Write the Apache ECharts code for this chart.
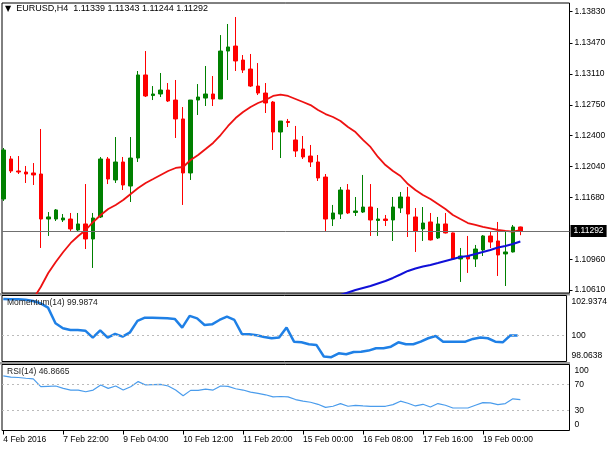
<!DOCTYPE html>
<html>
<head>
<meta charset="utf-8">
<style>
  html, body { margin: 0; padding: 0; background: #fff; }
  #chart { width: 610px; height: 450px; }
</style>
<script src="https://cdn.jsdelivr.net/npm/echarts@6/dist/echarts.min.js"></script>
</head>
<body>
<div id="chart"></div>
<script>
// EURUSD H4, 4 Feb 16:00 .. 19 Feb 20:00 (70 bars)
const opens = [1.11663, 1.12126, 1.11987, 1.11975, 1.11964, 1.11952, 1.11431, 1.11431, 1.11420, 1.11431,
  1.11304, 1.11374, 1.11200, 1.11455, 1.12126, 1.11883, 1.12091, 1.11813, 1.12137, 1.13098,
  1.12860, 1.12878, 1.12924, 1.12808, 1.12589, 1.11964, 1.12808, 1.12831, 1.12878, 1.12820,
  1.13375, 1.13433, 1.13271, 1.13167, 1.12970, 1.12889, 1.12785, 1.12438, 1.12560, 1.12346,
  1.12241, 1.12160, 1.12091, 1.11917, 1.11431, 1.11489, 1.11767, 1.11507, 1.11512, 1.11570,
  1.11414, 1.11431, 1.11420, 1.11559, 1.11686, 1.11455, 1.11316, 1.11397, 1.11212, 1.11374,
  1.11270, 1.10969, 1.11003, 1.10969, 1.11073, 1.11235, 1.11177, 1.11027, 1.11050, 1.11339];
const highs = [1.12253, 1.12160, 1.12160, 1.12045, 1.12079, 1.12473, 1.11512, 1.11547, 1.11489, 1.11501,
  1.11501, 1.11836, 1.11501, 1.12149, 1.12149, 1.12380, 1.12149, 1.12380, 1.13144, 1.13375,
  1.12970, 1.13121, 1.13005, 1.13040, 1.12727, 1.12808, 1.12993, 1.13202, 1.13086, 1.13560,
  1.13688, 1.13769, 1.13329, 1.13341, 1.13236, 1.13005, 1.12797, 1.12565, 1.12589, 1.12508,
  1.12392, 1.12288, 1.12172, 1.11952, 1.11594, 1.11802, 1.11836, 1.11686, 1.11941, 1.11836,
  1.11559, 1.11478, 1.11686, 1.11744, 1.11802, 1.11559, 1.11570, 1.11501, 1.11455, 1.11501,
  1.11275, 1.11096, 1.11235, 1.11131, 1.11246, 1.11281, 1.11397, 1.11281, 1.11362, 1.11343];
const lows = [1.11640, 1.11964, 1.11952, 1.11848, 1.11825, 1.11096, 1.11235, 1.11408, 1.11397, 1.11293,
  1.11281, 1.11084, 1.10865, 1.11443, 1.11836, 1.11848, 1.11767, 1.11628, 1.12091, 1.12843,
  1.12808, 1.12843, 1.12785, 1.12369, 1.11594, 1.11883, 1.12635, 1.12739, 1.12739, 1.12820,
  1.13040, 1.13144, 1.13121, 1.12959, 1.12866, 1.12658, 1.12230, 1.12137, 1.12496, 1.12149,
  1.12126, 1.12033, 1.11871, 1.11281, 1.11350, 1.11431, 1.11489, 1.11466, 1.11501, 1.11235,
  1.11235, 1.11350, 1.11177, 1.11501, 1.11223, 1.11050, 1.11177, 1.11183, 1.11200, 1.11264,
  1.10957, 1.10703, 1.10807, 1.10876, 1.11003, 1.11096, 1.10772, 1.10656, 1.11044, 1.11244];
const closes = [1.12230, 1.11987, 1.11975, 1.11952, 1.11941, 1.11431, 1.11455, 1.11536, 1.11443, 1.11316,
  1.11374, 1.11200, 1.11443, 1.12126, 1.11894, 1.12091, 1.11825, 1.12137, 1.13098, 1.12855,
  1.12878, 1.12924, 1.12797, 1.12589, 1.11964, 1.12808, 1.12843, 1.12878, 1.12820, 1.13375,
  1.13422, 1.13260, 1.13155, 1.12970, 1.12889, 1.12774, 1.12438, 1.12565, 1.12548, 1.12218,
  1.12149, 1.12091, 1.11906, 1.11431, 1.11501, 1.11767, 1.11501, 1.11524, 1.11570, 1.11420,
  1.11431, 1.11414, 1.11570, 1.11686, 1.11489, 1.11293, 1.11385, 1.11189, 1.11374, 1.11270,
  1.10969, 1.11003, 1.10969, 1.11084, 1.11235, 1.11165, 1.11015, 1.11050, 1.11339, 1.11292];

// red moving average (hidden below the panel at the start)
const maFast = [null, null, null, null, 1.10506, 1.10645, 1.10807, 1.10934, 1.11050, 1.11154,
  1.11235, 1.11304, 1.11397, 1.11478, 1.11547, 1.11594, 1.11651, 1.11721, 1.11790, 1.11848,
  1.11894, 1.11941, 1.11987, 1.12022, 1.12033, 1.12114, 1.12172, 1.12241, 1.12311, 1.12403,
  1.12508, 1.12600, 1.12670, 1.12727, 1.12774, 1.12808, 1.12855, 1.12872, 1.12855, 1.12820,
  1.12785, 1.12750, 1.12693, 1.12646, 1.12612, 1.12565, 1.12496, 1.12438, 1.12346, 1.12265,
  1.12149, 1.12056, 1.11987, 1.11929, 1.11836, 1.11767, 1.11709, 1.11663, 1.11605, 1.11547,
  1.11478, 1.11431, 1.11385, 1.11362, 1.11339, 1.11322, 1.11304, 1.11293, 1.11285, 1.11304];
// blue moving average, only visible on the right
const maSlow = [null, null, null, null, null, null, null, null, null, null,
  null, null, null, null, null, null, null, null, null, null,
  null, null, null, null, null, null, null, null, null, null,
  null, null, null, null, null, null, null, null, null, null,
  null, null, null, null, null, 1.10552, 1.10581, 1.10610, 1.10633, 1.10656,
  1.10685, 1.10714, 1.10749, 1.10789, 1.10830, 1.10859, 1.10882, 1.10899, 1.10922, 1.10946,
  1.10969, 1.10992, 1.11003, 1.11027, 1.11050, 1.11073, 1.11102, 1.11119, 1.11142, 1.11171];

const momentum = [102.68, 102.66, 102.66, 102.63, 102.53, 102.36, 102.04, 100.89, 100.52, 100.39,
  100.39, 100.34, 99.83, 100.37, 99.83, 100.10, 99.90, 100.22, 101.06, 101.30,
  101.30, 101.28, 101.25, 101.21, 100.57, 101.43, 101.25, 100.76, 100.81, 101.13,
  101.38, 101.13, 100.10, 100.07, 100.00, 99.88, 99.78, 99.83, 100.57, 99.53,
  99.48, 99.34, 99.29, 98.43, 98.38, 98.67, 98.60, 98.77, 98.79, 98.87,
  99.04, 99.04, 99.16, 99.48, 99.34, 99.34, 99.53, 99.78, 99.95, 99.53,
  99.53, 99.53, 99.53, 99.73, 99.83, 99.78, 99.53, 99.48, 99.98, 99.9874];
const rsi = [82.8, 80.8, 80.3, 79.2, 78.2, 66.4, 66.9, 67.4, 63.8, 61.3,
  61.3, 58.7, 61.3, 69.0, 63.8, 67.4, 61.3, 66.4, 74.1, 69.0,
  69.5, 70.0, 67.4, 61.3, 52.6, 60.8, 60.8, 62.8, 61.3, 67.4,
  66.9, 63.3, 61.3, 58.2, 56.2, 54.1, 51.0, 51.5, 51.0, 46.9,
  44.4, 42.8, 39.7, 35.1, 36.7, 40.8, 36.7, 38.2, 37.2, 36.7,
  36.7, 36.7, 39.2, 44.4, 41.3, 37.2, 39.7, 35.6, 40.8, 38.2,
  34.1, 34.1, 34.1, 38.2, 42.3, 41.8, 39.2, 40.8, 48.0, 46.8665];

const timeTickBars = [0, 8, 16, 24, 32, 40, 48, 56, 64];
const timeTickLabels = ["4 Feb 2016", "7 Feb 22:00", "9 Feb 04:00", "10 Feb 12:00", "11 Feb 20:00",
  "15 Feb 00:00", "16 Feb 08:00", "17 Feb 16:00", "19 Feb 00:00"];
const priceTicks = [1.10610, 1.10960, 1.11680, 1.12040, 1.12400, 1.12750, 1.13110, 1.13470, 1.13830];
const momTicks = [98.0638, 100, 102.9374];
const rsiTicks = [0, 30, 70, 100];
const rsiLevels = [70, 30];

const last = closes.length - 1;
const FONT = "Liberation Sans";
const xMin = -0.173, xMax = 75.56;

const bars = opens.map((o, i) => [i, o, closes[i], lows[i], highs[i]]);
const pairs = arr => arr.map((v, i) => [i, v]);

const chart = echarts.init(document.getElementById("chart"));

const edgeRich = {
  t: { padding: [12, 0, 0, 0], fontSize: 8.5, color: "#000", fontFamily: FONT },
  b: { padding: [0, 0, 12, 0], fontSize: 8.5, color: "#000", fontFamily: FONT }
};

function xAxis(idx, showLabels) {
  const ax = {
    type: "value", gridIndex: idx, min: xMin, max: xMax,
    splitLine: { show: false }, axisLine: { show: false, onZero: false }
  };
  if (!showLabels) {
    ax.axisTick = { show: false };
    ax.axisLabel = { show: false };
  } else {
    ax.axisTick = { show: true, customValues: timeTickBars, length: 4, lineStyle: { color: "#000" } };
    ax.axisLabel = {
      customValues: timeTickBars, align: "left", margin: 5,
      fontSize: 8.5, color: "#000", fontFamily: FONT,
      formatter: v => timeTickLabels[timeTickBars.indexOf(v)]
    };
  }
  return ax;
}

const option = {
  animation: false,
  textStyle: { fontFamily: FONT },
  title: [
    {
      text: "{tri|▼}  EURUSD,H4  " + [opens[last], highs[last], lows[last], closes[last]].map(v => v.toFixed(5)).join(" "),
      left: 5, top: 4, padding: 0,
      textStyle: { fontSize: 9, fontWeight: "normal", color: "#000", fontFamily: FONT,
        rich: { tri: { fontSize: 8, color: "#000", fontFamily: "DejaVu Sans" } } }
    },
    {
      text: "Momentum(14) " + momentum[last].toFixed(4),
      left: 7, top: 298.5, padding: 0,
      textStyle: { fontSize: 8.5, fontWeight: "normal", color: "#222", fontFamily: FONT }
    },
    {
      text: "RSI(14) " + rsi[last].toFixed(4),
      left: 7, top: 367.5, padding: 0,
      textStyle: { fontSize: 8.5, fontWeight: "normal", color: "#222", fontFamily: FONT }
    }
  ],
  graphic: [
    { type: "rect", z: -1, shape: { x: 0, y: 293, width: 570, height: 2.5 }, style: { fill: "#9a9a9a" } },
    { type: "rect", z: -1, shape: { x: 0, y: 362, width: 570, height: 2.5 }, style: { fill: "#9a9a9a" } }
  ],
  grid: [
    { left: 2, top: 3, width: 567.5, height: 290, show: true, borderColor: "#000", borderWidth: 1, backgroundColor: "#fff" },
    { left: 2, top: 295.5, width: 567.5, height: 66, show: true, borderColor: "#000", borderWidth: 1, backgroundColor: "#fff" },
    { left: 2, top: 364.5, width: 567.5, height: 66, show: true, borderColor: "#000", borderWidth: 1, backgroundColor: "#fff" }
  ],
  xAxis: [xAxis(0, false), xAxis(1, false), xAxis(2, true)],
  yAxis: [
    {
      type: "value", gridIndex: 0, position: "right", min: 1.10575, max: 1.13931,
      splitLine: { show: false }, axisLine: { show: false, onZero: false },
      axisTick: { show: true, customValues: priceTicks, length: 3, lineStyle: { color: "#000" } },
      axisLabel: { customValues: priceTicks, margin: 5, fontSize: 8.5, color: "#000", fontFamily: FONT,
        formatter: v => v.toFixed(5) }
    },
    {
      type: "value", gridIndex: 1, position: "right", min: momTicks[0], max: momTicks[2],
      splitLine: { show: false }, axisLine: { show: false, onZero: false }, axisTick: { show: false },
      axisLabel: { customValues: momTicks, margin: 5, fontSize: 8.5, color: "#000", fontFamily: FONT, rich: edgeRich,
        formatter: v => v === momTicks[2] ? "{t|" + v.toFixed(4) + "}" : v === momTicks[0] ? "{b|" + v.toFixed(4) + "}" : String(v) }
    },
    {
      type: "value", gridIndex: 2, position: "right", min: 0, max: 100,
      splitLine: { show: false }, axisLine: { show: false, onZero: false }, axisTick: { show: false },
      axisLabel: { customValues: rsiTicks, margin: 5, fontSize: 8.5, color: "#000", fontFamily: FONT, rich: edgeRich,
        formatter: v => v === 100 ? "{t|100}" : v === 0 ? "{b|0}" : String(v) }
    }
  ],
  series: [
    {
      type: "candlestick", xAxisIndex: 0, yAxisIndex: 0, data: bars, barWidth: 4,
      itemStyle: { color: "#008000", color0: "#ff0000", borderColor: "#008000", borderColor0: "#ff0000", borderWidth: 1 }
    },
    {
      type: "line", xAxisIndex: 0, yAxisIndex: 0, data: pairs(maFast), showSymbol: false,
      lineStyle: { color: "#ee1111", width: 1.8 },
      // bid line with its price box on the right edge (precision keeps all 5 decimals)
      markLine: {
        silent: true, symbol: "none", precision: 5,
        data: [{ yAxis: closes[last] }],
        lineStyle: { color: "#707070", width: 1, type: "solid" },
        label: { position: "end", distance: 1, formatter: closes[last].toFixed(5),
          backgroundColor: "#000", color: "#fff", padding: [2, 3, 1, 3], fontSize: 8.5, fontFamily: FONT }
      }
    },
    {
      type: "line", xAxisIndex: 0, yAxisIndex: 0, data: pairs(maSlow), showSymbol: false,
      lineStyle: { color: "#1010d8", width: 2 }
    },
    {
      type: "line", xAxisIndex: 1, yAxisIndex: 1, data: pairs(momentum), showSymbol: false,
      lineStyle: { color: "#1f80e6", width: 2.5 },
      markLine: {
        silent: true, symbol: "none", label: { show: false },
        data: [{ yAxis: 100 }],
        lineStyle: { color: "#bbbbbb", width: 1, type: [2, 3] }
      }
    },
    {
      type: "line", xAxisIndex: 2, yAxisIndex: 2, data: pairs(rsi), showSymbol: false,
      lineStyle: { color: "#4a9cec", width: 1.2 },
      markLine: {
        silent: true, symbol: "none", label: { show: false },
        data: rsiLevels.map(v => ({ yAxis: v })),
        lineStyle: { color: "#bbbbbb", width: 1, type: [2, 3] }
      }
    }
  ]
};

chart.setOption(option);
</script>
</body>
</html>
